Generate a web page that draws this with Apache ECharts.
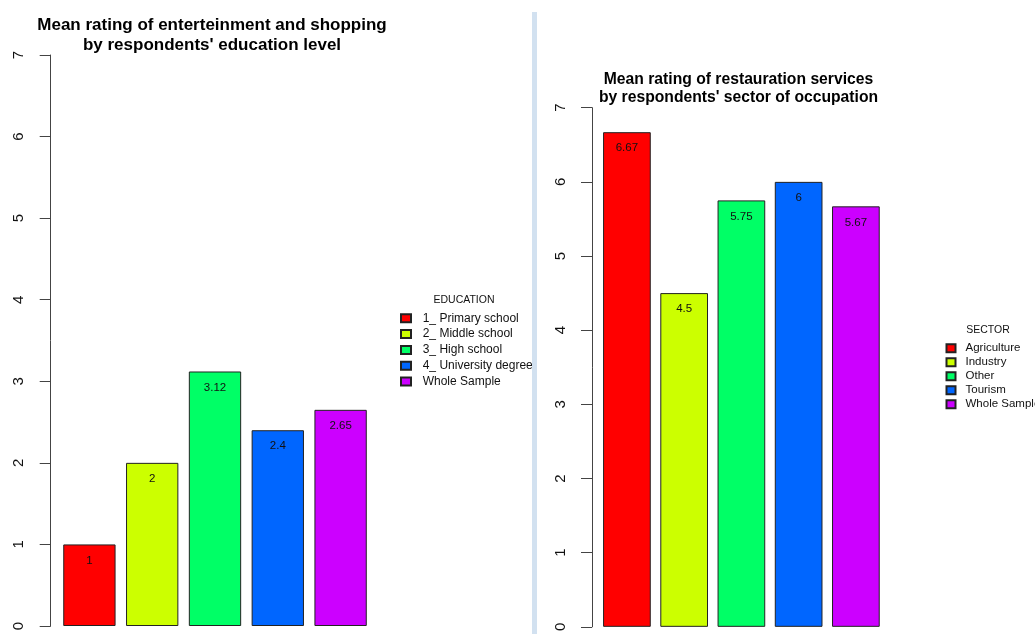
<!DOCTYPE html>
<html>
<head>
<meta charset="utf-8">
<script src="https://cdn.jsdelivr.net/npm/echarts@6/dist/echarts.min.js"></script>
<style>
  html, body { margin: 0; padding: 0; background: #ffffff; }
  #chart { width: 1035px; height: 634px; }
</style>
</head>
<body>
<div id="chart"></div>
<script>
// Left panel: entertainment & shopping by education level
const eduCategories = ['1_ Primary school', '2_ Middle school', '3_ High school', '4_ University degree', 'Whole Sample'];
const eduValues = [1, 2, 3.12, 2.4, 2.65];

// Right panel: restauration services by sector of occupation
const sectorCategories = ['Agriculture', 'Industry', 'Other', 'Tourism', 'Whole Sample'];
const sectorValues = [6.67, 4.5, 5.75, 6, 5.67];

// Shared y scale tick labels
const yTicks = [0, 1, 2, 3, 4, 5, 6, 7];

// rainbow(5) palette
const palette = ['#FF0000', '#CCFF00', '#00FF66', '#0066FF', '#CC00FF'];

const FONT = 'Liberation Sans, Arial, sans-serif';

function makeBars(cats, vals, axisIdx, stackName) {
  return cats.map((name, i) => ({
    type: 'bar',
    name: name,
    xAxisIndex: axisIdx,
    yAxisIndex: axisIdx,
    stack: stackName,
    barCategoryGap: '16.67%',
    data: cats.map((c, j) => (j === i ? vals[i] : '-')),
    itemStyle: { color: palette[i], borderColor: '#222', borderWidth: 1 },
    label: {
      show: true,
      position: 'insideTop',
      distance: 10,
      color: '#111',
      fontFamily: FONT,
      fontSize: 11.5
    },
    emphasis: { disabled: true },
    animation: false
  }));
}

function yAxisCfg(gridIndex, offset) {
  return {
    type: 'value',
    gridIndex: gridIndex,
    min: yTicks[0],
    max: yTicks[yTicks.length - 1],
    interval: 1,
    offset: offset,
    axisLine: { show: true, lineStyle: { color: '#444', width: 1 } },
    axisTick: { show: true, length: 11, lineStyle: { color: '#444', width: 1 } },
    axisLabel: { rotate: 90, margin: 24, fontSize: 15, color: '#111', fontFamily: FONT },
    splitLine: { show: false }
  };
}

function xAxisCfg(gridIndex, cats) {
  return { type: 'category', gridIndex: gridIndex, data: cats, show: false, boundaryGap: true };
}

function legendCfg(names, left, top, fontSize, rowH, textPad, iconW, iconH) {
  return {
    data: names,
    orient: 'vertical',
    left: left,
    top: top,
    padding: 0,
    itemGap: 0,
    icon: 'rect',
    itemWidth: iconW,
    itemHeight: iconH,
    selectedMode: false,
    textStyle: {
      fontFamily: FONT,
      fontSize: fontSize,
      lineHeight: rowH,
      color: '#111',
      padding: [0, 0, 0, textPad]
    }
  };
}

const chart = echarts.init(document.getElementById('chart'), null, { renderer: 'canvas' });

chart.setOption({
  backgroundColor: '#ffffff',
  animation: false,
  title: [
    {
      text: 'Mean rating of enterteinment and shopping\nby respondents\' education level',
      left: 212, top: 15.5, textAlign: 'center', padding: 0,
      textStyle: { fontFamily: FONT, fontWeight: 'bold', fontSize: 17, lineHeight: 20, color: '#000' }
    },
    {
      text: 'Mean rating of restauration services\nby respondents\' sector of occupation',
      left: 738.5, top: 71, textAlign: 'center', padding: 0,
      textStyle: { fontFamily: FONT, fontWeight: 'bold', fontSize: 15.7, lineHeight: 18, color: '#000' }
    },
    {
      text: 'EDUCATION',
      left: 464, top: 294, textAlign: 'center', padding: 0,
      textStyle: { fontFamily: FONT, fontWeight: 'normal', fontSize: 10.5, lineHeight: 12, color: '#111' }
    },
    {
      text: 'SECTOR',
      left: 988, top: 324, textAlign: 'center', padding: 0,
      textStyle: { fontFamily: FONT, fontWeight: 'normal', fontSize: 10.5, lineHeight: 12, color: '#111' }
    }
  ],
  grid: [
    { left: 58, right: 663, top: 55, bottom: 8, containLabel: false },
    { left: 598.3, right: 150.5, top: 107.7, bottom: 6.5, containLabel: false }
  ],
  xAxis: [xAxisCfg(0, eduCategories), xAxisCfg(1, sectorCategories)],
  yAxis: [yAxisCfg(0, 7.3), yAxisCfg(1, 6.3)],
  legend: [
    legendCfg(eduCategories, 400, 310.4, 12, 15.8, 6.7, 10, 8),
    legendCfg(sectorCategories, 945.5, 341.3, 11.5, 14, 5, 9, 8)
  ],
  series: [].concat(
    makeBars(eduCategories, eduValues, 0, 'edu'),
    makeBars(sectorCategories, sectorValues, 1, 'sector')
  ),
  graphic: [
    // blank strip masking left-panel overflow at the panel border
    { type: 'rect', z: 100, shape: { x: 535, y: 300, width: 14, height: 90 }, style: { fill: '#ffffff' } },
    // panel divider
    { type: 'rect', z: 101, shape: { x: 532, y: 12, width: 5, height: 622 }, style: { fill: '#d2e1f0' } }
  ]
});
</script>
</body>
</html>
